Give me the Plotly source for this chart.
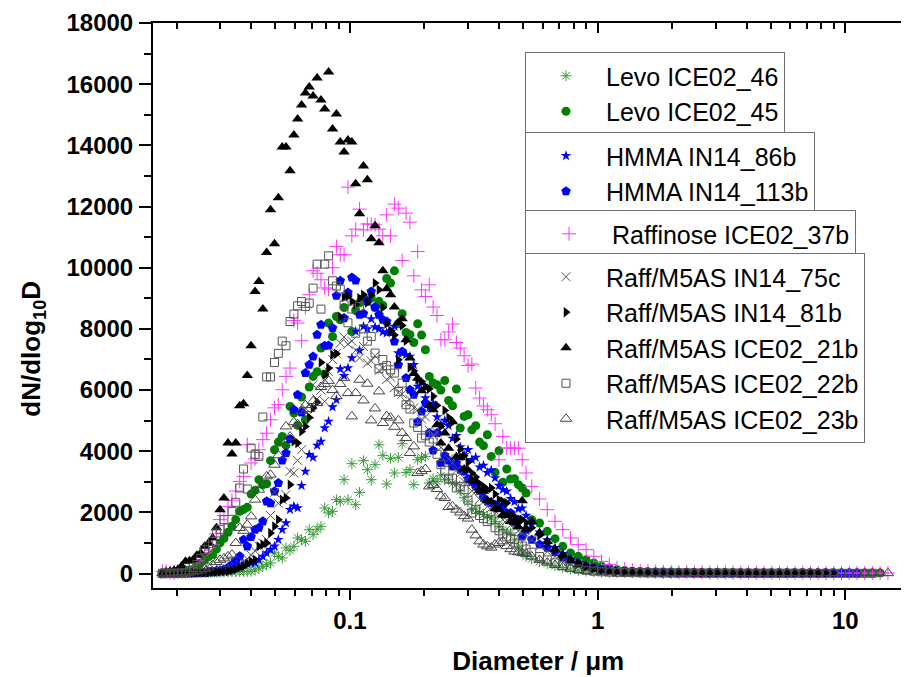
import plotly.graph_objects as go

# ---------------- data ----------------
# SMPS channel mid-point diameters (um)
D_SMPS = [0.0175, 0.0181, 0.0188, 0.0195, 0.0202, 0.0209, 0.0217, 0.0225, 0.0233, 0.0241,
          0.0250, 0.0259, 0.0269, 0.0279, 0.0289, 0.0299, 0.0310, 0.0322, 0.0334, 0.0346,
          0.0359, 0.0372, 0.0385, 0.0399, 0.0414, 0.0429, 0.0445, 0.0461, 0.0478, 0.0496,
          0.0514, 0.0533, 0.0552, 0.0573, 0.0594, 0.0615, 0.0638, 0.0661, 0.0685, 0.0710,
          0.0737, 0.0764, 0.0791, 0.0820, 0.0851, 0.0882, 0.0914, 0.0947, 0.0982, 0.1018,
          0.1055, 0.1094, 0.1134, 0.1176, 0.1219, 0.1263, 0.1310, 0.1358, 0.1407, 0.1459,
          0.1512, 0.1568, 0.1625, 0.1685, 0.1747, 0.1811, 0.1877, 0.1946, 0.2017, 0.2091,
          0.2167, 0.2247, 0.2329, 0.2415, 0.2503, 0.2595, 0.2690, 0.2788, 0.2891, 0.2997,
          0.3106, 0.3220, 0.3338, 0.3460, 0.3587, 0.3719, 0.3855, 0.3997, 0.4143, 0.4295,
          0.4452, 0.4615, 0.4785, 0.4960, 0.5142]
# APS channel mid-point diameters (um)
D_APS = [0.542, 0.583, 0.626, 0.673, 0.723, 0.777, 0.835, 0.898, 0.965, 1.037,
         1.114, 1.197, 1.286, 1.382, 1.486, 1.596, 1.715, 1.843, 1.981, 2.129,
         2.288, 2.458, 2.642, 2.839, 3.051, 3.278, 3.523, 3.786, 4.068, 4.371,
         4.698, 5.048, 5.425, 5.829, 6.264, 6.732, 7.234, 7.774, 8.354, 8.977,
         9.647, 10.37, 11.14, 11.97, 12.86, 13.82, 14.86]

LEVO46_S = [10, 15, 15, 20, 20, 25, 25, 30, 30, 35,
            35, 40, 40, 45, 45, 50, 50, 55, 60, 60,
            65, 70, 70, 75, 120, 180, 240, 290, 350, 676,
            560, 513, 840, 760, 892, 1166, 1110, 1055, 1437, 1274,
            1450, 1545, 2146, 1983, 2035, 2417, 2362, 3071, 2417, 3594,
            2254, 2656, 3692, 3398, 3071, 3561, 4214, 3865, 2930, 3767,
            3290, 3800, 4247, 3309, 3400, 2908, 3724, 3800, 3833, 2963,
            3100, 3015, 3200, 3071, 3071, 2950, 2908, 2700, 2480, 2350,
            2091, 2146, 2000, 1927, 1872, 1820, 1700, 1550, 1437, 1330,
            1330, 1100, 900, 676, 565]
LEVO46_A = [480, 400, 330, 260, 200, 150, 110, 80, 60, 50, 40, 35, 30, 30, 25,
            25, 20, 20, 20, 15, 15, 15, 15, 10, 10, 10, 10, 10, 10, 10]

LEVO45_S = [15, 20, 25, 40, 60, 80, 100, 120, 131, 250,
            350, 450, 560, 620, 800, 1003, 1150, 1350, 1550, 1764,
            2035, 2100, 2166, 2600, 2722, 3071, 2900, 2940, 3692, 4051,
            4300, 4486, 4192, 5466, 5250, 4845, 5773, 5031, 6100, 6446,
            6600, 7373, 6524, 8190, 7752, 8406, 8300, 8700, 9115, 7916,
            8600, 8850, 9007, 8900, 9007, 8700, 8900, 8765, 9647, 9500,
            9898, 8167, 8494, 7883, 7808, 7556, 8167, 7800, 7318, 6446,
            6230, 6174, 6000, 6315, 5661, 5488, 6034, 4760, 5139, 5194,
            4700, 4835, 4300, 4182, 4541, 3832, 3309, 4018, 2983, 3420,
            3094, 3104, 2908, 2800, 2636]
LEVO45_A = [1764, 1656, 1382, 1143, 892, 676, 565, 457, 350, 240, 186, 130, 100, 80, 70,
            60, 55, 50, 50, 45, 45, 40, 40, 40, 35, 35, 35, 30, 30, 30, 30, 25, 25, 25,
            25, 25, 20, 20, 20, 20, 20, 20, 20, 20, 20, 20]

HMMA86_S = [5, 5, 5, 8, 10, 12, 15, 20, 25, 30,
            40, 50, 60, 75, 90, 110, 130, 150, 180, 220,
            260, 300, 320, 340, 350, 450, 560, 676, 780, 892,
            1111, 1437, 1656, 2091, 2199, 2146, 2875, 3342, 3888, 3800,
            4192, 4322, 4760, 4976, 5445, 5684, 6688, 6468, 6720, 7046,
            7916, 7295, 8079, 8000, 8321, 8059, 8004, 7900, 7864, 7896,
            8079, 7210, 7210, 7155, 7100, 6828, 6119, 6250, 5740, 5420,
            5560, 5119, 4870, 5010, 4835, 4420, 4510, 4139, 3880, 4050,
            3720, 3800, 3480, 3538, 3300, 3380, 3126, 2880, 2744, 2690,
            2450, 2350, 2114, 2140, 1900]
HMMA86_A = [1600, 1350, 1100, 850, 650, 480, 350, 260, 190, 140, 100, 80, 60, 50, 45,
            40, 35, 30, 30, 25, 25, 25, 20, 20, 20, 20, 20, 15, 15, 15, 15, 15, 15, 15,
            15, 15, 15, 15, 15, 15, 15, 15]

HMMA113_S = [10, 10, 10, 12, 12, 15, 15, 18, 20, 20,
             20, 23, 40, 60, 75, 100, 131, 200, 294, 420,
             565, 1111, 892, 1200, 1437, 1500, 1709, 2362, 2300, 2689,
             2963, 3701, 3943, 4400, 5358, 5848, 5270, 6556, 6828, 7100,
             7808, 8134, 7449, 7458, 8030, 9082, 9572, 8353, 9190, 9680,
             9582, 8461, 8500, 8900, 9222, 8713, 8461, 8300, 8243, 7900,
             7589, 6828, 7262, 6393, 6011, 5848, 4956, 5300, 5577, 4600,
             4028, 4596, 3616, 3865, 3700, 3500, 3616, 3400, 3342, 3094,
             3000, 2852, 2700, 2473, 2362, 2310, 2250, 2146, 2199, 1983,
             1983, 1676, 1764, 1219, 1437]
HMMA113_A = [1111, 950, 850, 700, 540, 430, 340, 240, 186, 140, 110, 90, 70, 60, 50,
             45, 40, 35, 35, 30, 30, 25, 25, 25, 25, 20, 20, 20, 20, 20, 20, 20, 20, 20,
             20, 20, 20, 20, 20, 20, 20, 20, 20]

RAFF37_S = [75, 75, 40, 20, 60, 75, 75, 200, 350, 420,
            600, 676, 850, 947, 1300, 1764, 1900, 2199, 2400, 2700,
            3015, 3179, 4214, 3616, 3750, 4051, 4380, 4590, 5031, 5420,
            5521, 6011, 6446, 6720, 8275, 8190, 7612, 8700, 9115, 9900,
            9820, 9605, 9340, 9300, 10000, 10692, 10421, 10421, 12633, 11042,
            11261, 11915, 11238, 11430, 11425, 11402, 11261, 11042, 11728, 11042,
            12078, 11947, 10235, 11784, 11490, 9735, 10529, 9278, 9059, 9441,
            8713, 8438, 7645, 7645, 7900, 8157, 7556, 7373, 7122, 6805,
            6851, 6067, 5740, 5480, 5358, 5194, 4900, 3724, 4486, 4106,
            4106, 4100, 4100, 3724, 3290]
RAFF37_A = [2852, 2440, 2091, 1709, 1437, 1166, 947, 784, 565, 402, 294, 186, 150, 110,
            90, 80, 70, 60, 55, 50, 50, 45, 45, 40, 40, 40, 35, 35, 35, 30, 30, 30, 30,
            25, 25, 25, 25, 25, 20, 20, 20, 20, 20, 20, 20, 20, 20]

R75C_S = [5, 5, 8, 10, 10, 12, 15, 18, 20, 25,
          30, 40, 50, 60, 75, 90, 110, 140, 180, 230,
          300, 380, 480, 600, 750, 900, 1000, 1111, 1900, 2656,
          2300, 2417, 2581, 3342, 3290, 3700, 4051, 5413, 5200, 6174,
          5708, 6000, 5630, 6600, 7000, 7200, 7537, 7735, 7500, 7600,
          7300, 7050, 7427, 6880, 6950, 7120, 6640, 6710, 6350, 6420,
          6080, 5910, 5870, 5610, 5690, 5420, 5358, 5050, 5120, 4690,
          4520, 4610, 4120, 4010, 3750, 3620, 3380, 3260, 3010, 2980,
          2700, 2680, 2430, 2350, 2190, 2150, 1960, 1920, 1760, 1740,
          1580, 1530, 1390, 1340, 1190]
R75C_A = [1100, 900, 720, 560, 430, 320, 240, 180, 130, 95, 70, 55, 45, 40, 35, 30, 30,
          25, 25, 20, 20, 20, 20, 15, 15, 15, 15, 15, 15, 15, 15, 15, 15, 15, 15]

R81B_S = [5, 5, 8, 10, 12, 15, 18, 20, 25, 30,
          35, 40, 45, 50, 55, 60, 70, 75, 100, 140,
          200, 240, 320, 400, 457, 892, 950, 1003, 1330, 1545,
          1764, 2417, 2473, 2908, 4322, 4270, 4649, 4812, 5100, 5413,
          5600, 6900, 6500, 6720, 7155, 7188, 8400, 9040, 9070, 8900,
          8800, 9000, 9115, 8863, 9100, 9497, 9278, 8700, 8167, 7950,
          7800, 6991, 8112, 7612, 6740, 6620, 6350, 6283, 6119, 6044,
          5800, 5500, 4812, 5335, 5100, 4956, 4400, 4074, 3850, 3640,
          3290, 3160, 2940, 2852, 2744, 2800, 2600, 2417, 2362, 2310,
          1927, 1870, 1720, 1760, 1656]
R81B_A = [1500, 1250, 1000, 780, 600, 450, 330, 240, 170, 120, 90, 70, 55, 45, 40, 35,
          30, 30, 25, 25, 25, 20, 20, 20, 20, 20, 15, 15, 15, 15, 15, 15, 15, 15, 15,
          15, 15, 15, 15, 15]

R21B_S = [30, 60, 75, 110, 131, 250, 402, 420, 457, 600,
          676, 892, 1000, 1166, 1500, 2091, 2473, 4270, 3910, 4270,
          5488, 5554, 6478, 7449, 9222, 9549, 8648, 10497, 11892, 10781,
          12284, 13950, 13950, 13166, 14342, 14864, 15322, 15714, 15910, 15616,
          16204, 15486, 15192, 16400, 14538, 15028, 14113, 13786, 14178, 14113,
          12741, 11761, 13329, 12872, 10944, 11369, 10813, 9898, 9310, 9114,
          8720, 8210, 8330, 7645, 7050, 6540, 6390, 5980, 6080, 5490,
          5360, 4870, 4270, 4600, 4100, 4966, 3820, 3790, 3420, 3380,
          3050, 3010, 2720, 2690, 2400, 2350, 2120, 2090, 1920, 1890,
          1700, 1680, 1530, 2385, 1450]
R21B_A = [1700, 1330, 1050, 800, 600, 420, 300, 220, 150, 110, 80, 60, 50, 45, 40, 40,
          35, 30, 30, 30, 25, 25, 25, 20, 20, 20, 20, 20, 15, 15, 15, 15, 15, 15, 10,
          10, 10, 10]

R22B_S = [10, 10, 12, 12, 15, 15, 30, 80, 200, 300,
          500, 784, 900, 1050, 1330, 1450, 1764, 1493, 2035, 2330,
          2800, 3420, 2767, 4106, 3900, 3833, 5120, 6430, 6430, 6900,
          7200, 7600, 7449, 8242, 8484, 8755, 8895, 8733, 8843, 9333,
          10117, 8648, 10117, 10389, 9572, 9400, 9300, 8788, 8200, 8650,
          7860, 8733, 8000, 7600, 7752, 7210, 6697, 7000, 6800, 6664,
          6556, 5956, 6230, 5521, 5380, 4923, 4780, 4433, 4508, 4300,
          4400, 3900, 3560, 3380, 3090, 3120, 2800, 2852, 2744, 2400,
          1983, 2100, 1900, 1800, 1700, 1760, 1500, 1400, 1300, 1200,
          1150, 1111, 1000, 900, 800]
R22B_A = [700, 560, 450, 350, 270, 200, 150, 110, 80, 60, 50, 40, 35, 30, 30, 25, 25,
          20, 20, 20, 20, 15, 15, 15, 15, 15, 15, 10, 10, 10, 10, 10, 10, 10, 10, 10,
          10, 10, 10, 10, 10, 10, 10, 10, 10]

R23B_S = [10, 10, 15, 15, 20, 25, 30, 40, 60, 80,
          100, 150, 200, 280, 380, 450, 500, 565, 620, 1003,
          1493, 1400, 1600, 1872, 2417, 2744, 2900, 3180, 3234, 3560,
          3870, 4260, 4812, 4480, 4950, 4890, 5320, 5510, 5380, 5640,
          5575, 6100, 6200, 6300, 6000, 5800, 6200, 6400, 5900, 5140,
          5903, 6338, 5661, 6207, 5009, 5400, 5956, 4923, 5150, 5100,
          4800, 5009, 4600, 4433, 3943, 4159, 3290, 3350, 3420, 2852,
          2900, 2767, 2527, 2473, 2179, 2200, 2091, 2000, 1880, 1800,
          1437, 1250, 1055, 950, 892, 850, 950, 1000, 1055, 900,
          800, 720, 700, 680, 650]
R23B_A = [560, 450, 360, 280, 210, 160, 120, 90, 70, 55, 45, 40, 35, 30, 30, 25, 25, 25,
          20, 20, 20, 20, 20, 20, 20, 15, 15, 15, 15, 15, 15, 15, 15, 15, 15, 15, 15, 15,
          15, 15, 15, 15, 15, 15, 15, 15, 15]

SERIES_NAMES = ["Levo ICE02_46", "Levo ICE02_45", "HMMA IN14_86b", "HMMA IN14_113b",
                "Raffinose ICE02_37b", "Raff/M5AS IN14_75c", "Raff/M5AS IN14_81b",
                "Raff/M5AS ICE02_21b", "Raff/M5AS ICE02_22b", "Raff/M5AS ICE02_23b"]
SERIES_SMPS = [LEVO46_S, LEVO45_S, HMMA86_S, HMMA113_S, RAFF37_S,
               R75C_S, R81B_S, R21B_S, R22B_S, R23B_S]
SERIES_APS = [LEVO46_A, LEVO45_A, HMMA86_A, HMMA113_A, RAFF37_A,
              R75C_A, R81B_A, R21B_A, R22B_A, R23B_A]

X_TICKS = [0.1, 1, 10]
X_TICK_TEXT = ["0.1", "1", "10"]
X_MINOR = [0.02, 0.03, 0.04, 0.05, 0.06, 0.07, 0.08, 0.09,
           0.2, 0.3, 0.4, 0.5, 0.6, 0.7, 0.8, 0.9,
           2, 3, 4, 5, 6, 7, 8, 9]

# ---------------- styles ----------------
STYLES = [
    dict(symbol="asterisk-open", size=9, color="#3a9a3a", lw=1, legend="legend"),
    dict(symbol="circle", size=9, color="#008000", lw=0, legend="legend"),
    dict(symbol="star", size=8, color="#0000ff", lw=0, legend="legend2"),
    dict(symbol="pentagon", size=10, color="#0000ff", lw=0, legend="legend2"),
    dict(symbol="cross-thin-open", size=10, color="#ff33ff", lw=1, legend="legend3"),
    dict(symbol="x-thin-open", size=9, color="#555555", lw=1, legend="legend4"),
    dict(symbol="triangle-right", size=9, color="#000000", lw=0, legend="legend4"),
    dict(symbol="triangle-up", size=10, color="#000000", lw=0, legend="legend4"),
    dict(symbol="square-open", size=8, color="#555555", lw=1, legend="legend4"),
    dict(symbol="triangle-up-open", size=10, color="#444444", lw=1, legend="legend4"),
]

FONT = "Liberation Sans, Arial, sans-serif"
X_RANGE = [-1.795, 1.257]
Y_RANGE = [-470, 18000]

fig = go.Figure()
n = len(SERIES_NAMES)
for i, (name, smps, aps, st) in enumerate(zip(SERIES_NAMES, SERIES_SMPS, SERIES_APS, STYLES)):
    xs = [d for d, v in zip(D_SMPS, smps) if v is not None] + D_APS[:len(aps)]
    ys = [v for v in smps if v is not None] + list(aps)
    # the last series sits on the overlaid (top/right) frame axes, same ranges
    axes = dict(xaxis="x2", yaxis="y2") if i == n - 1 else {}
    fig.add_trace(go.Scatter(
        x=xs, y=ys, mode="markers", name=name, legend=st["legend"],
        marker=dict(symbol=st["symbol"], size=st["size"], color=st["color"],
                    line=dict(color=st["color"], width=st["lw"])),
        **axes,
    ))

legend_common = dict(
    xanchor="left", yanchor="top", bgcolor="white",
    bordercolor="#707070", borderwidth=1,
    font=dict(family=FONT, size=25, color="black"),
    itemwidth=70, tracegroupgap=0,
)
x_leg = (525 - 153) / 756.0
def ytop(px):
    return (588 - px) / 565.0

fig.update_layout(
    width=901, height=669,
    margin=dict(l=145, r=0, t=15, b=89, autoexpand=False),
    paper_bgcolor="white", plot_bgcolor="white",
    showlegend=True,
    legend=dict(x=x_leg, y=ytop(52), **legend_common),
    legend2=dict(x=x_leg, y=ytop(132), **legend_common),
    legend3=dict(x=x_leg, y=ytop(210), **{**legend_common, "itemwidth": 76}),
    legend4=dict(x=x_leg, y=ytop(253), **legend_common),
    xaxis=dict(
        type="log", range=X_RANGE, automargin=False,
        showline=True, linecolor="black", linewidth=2, mirror=False,
        showgrid=False, zeroline=False,
        ticks="outside", ticklen=10, tickwidth=2, tickcolor="black",
        tickmode="array", tickvals=X_TICKS, ticktext=X_TICK_TEXT,
        minor=dict(tickmode="array", tickvals=X_MINOR, ticks="outside",
                   ticklen=6, tickwidth=1.5, tickcolor="black", showgrid=False),
        tickfont=dict(family=FONT, size=24, color="black", weight="bold"),
        title=dict(text="&nbsp;&nbsp;Diameter / \u03bcm", standoff=19,
                   font=dict(family=FONT, size=26, color="black", weight="bold")),
    ),
    xaxis2=dict(
        type="log", range=X_RANGE, overlaying="x", side="top", anchor="y2",
        automargin=False,
        showline=True, linecolor="black", linewidth=2,
        showgrid=False, zeroline=False, showticklabels=False,
        ticks="inside", ticklen=10, tickwidth=2, tickcolor="black",
        tickmode="array", tickvals=X_TICKS,
        minor=dict(tickmode="array", tickvals=X_MINOR, ticks="inside",
                   ticklen=6, tickwidth=1.5, tickcolor="black", showgrid=False),
    ),
    yaxis=dict(
        range=Y_RANGE, automargin=False,
        showline=True, linecolor="black", linewidth=2, mirror=False,
        showgrid=False, zeroline=False,
        ticks="outside", ticklen=12, tickwidth=2, tickcolor="black",
        tick0=0, dtick=2000, tickformat="d",
        minor=dict(dtick=1000, ticks="outside", ticklen=7, tickwidth=1.5,
                   tickcolor="black", showgrid=False),
        tickfont=dict(family=FONT, size=24, color="black", weight="bold"),
        ticklabelstandoff=1,
        title=dict(text="dN/dlog<sub>10</sub>D" + "&nbsp;" * 12,
                   standoff=18,
                   font=dict(family=FONT, size=26, color="black", weight="bold")),
    ),
    yaxis2=dict(
        range=Y_RANGE, overlaying="y", side="right", anchor="x2",
        automargin=False,
        showline=True, linecolor="black", linewidth=2,
        showgrid=False, zeroline=False, showticklabels=False,
        ticks="inside", ticklen=5, tickwidth=2, tickcolor="black",
        tick0=0, dtick=2000,
    ),
)

fig.write_html("out.html")
